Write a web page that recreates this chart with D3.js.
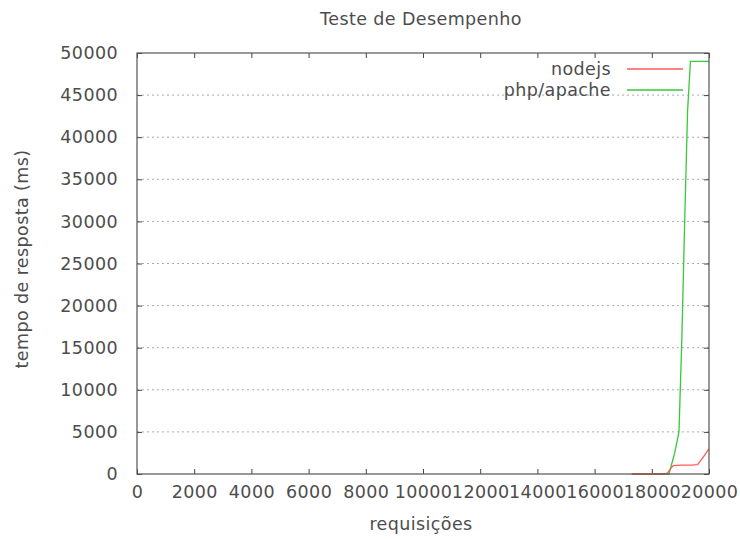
<!DOCTYPE html>
<html>
<head>
<meta charset="utf-8">
<script src="https://cdn.jsdelivr.net/npm/d3@7"></script>
<style>
  body { margin: 0; background: #fff; }
  text { font-family: "DejaVu Sans", sans-serif; fill: #4d4d4d; letter-spacing: 0.4px; }
</style>
</head>
<body>
<svg id="chart" width="740" height="539"></svg>
<script>
// requests vs response time (ms)
const nodeX = [17300, 18000, 18450, 18560, 18650, 18750, 19000, 19400, 19600, 19800, 20000];
const nodeY = [0, 0, 0, 150, 600, 1000, 1050, 1050, 1100, 2000, 3000];
const phpX = [17300, 18000, 18450, 18600, 18800, 18950, 19050, 19150, 19250, 19350, 19600, 20000];
const phpY = [0, 0, 0, 0, 2500, 5000, 16000, 30000, 43000, 49000, 49000, 49000];
const xTicks = [0, 2000, 4000, 6000, 8000, 10000, 12000, 14000, 16000, 18000, 20000];
const yTicks = [0, 5000, 10000, 15000, 20000, 25000, 30000, 35000, 40000, 45000, 50000];
const seriesNames = ['nodejs', 'php/apache'];
const seriesColors = ['#ff5a5a', '#38c838'];

const margin = {top: 53, right: 31, bottom: 65, left: 137};
const width = 740 - margin.left - margin.right;
const height = 539 - margin.top - margin.bottom;
const fontSize = '17.5px';

const svg = d3.select('#chart');
const g = svg.append('g')
  .attr('transform', `translate(${margin.left},${margin.top})`);

const scaleX = d3.scaleLinear().domain([0, 20000]).range([0, width]);
const scaleY = d3.scaleLinear().domain([0, 50000]).range([height, 0]);

// dotted grid
g.selectAll('line.grid')
  .data(yTicks.slice(1, -1))
  .enter().append('line')
  .attr('class', 'grid')
  .attr('x1', 0).attr('x2', width)
  .attr('y1', d => scaleY(d)).attr('y2', d => scaleY(d))
  .style('stroke', '#aaa')
  .style('stroke-dasharray', '2,3');

const xAxis = d3.axisBottom(scaleX).tickValues(xTicks).tickSize(-5).tickPadding(12).tickFormat(d3.format('d'));
const yAxis = d3.axisLeft(scaleY).tickValues(yTicks).tickSize(-5).tickPadding(19).tickFormat(d3.format('d'));
const xTop = d3.axisTop(scaleX).tickValues(xTicks).tickSize(-5).tickFormat('');
const yRight = d3.axisRight(scaleY).tickValues(yTicks).tickSize(-5).tickFormat('');

g.append('g').attr('class', 'x axis').attr('transform', `translate(0,${height})`).call(xAxis);
g.append('g').attr('class', 'y axis').call(yAxis);
g.append('g').attr('class', 'x2 axis').call(xTop);
g.append('g').attr('class', 'y2 axis').attr('transform', `translate(${width},0)`).call(yRight);

g.selectAll('.axis path.domain').remove();
g.selectAll('.axis .tick line').style('stroke', '#444');
g.selectAll('.axis text').style('font-size', fontSize).style('fill', '#4d4d4d')
  .style('font-family', '"DejaVu Sans", sans-serif');

// lines
const line = d3.line()
  .x(d => scaleX(d[0]))
  .y(d => scaleY(d[1]));

const series = [
  d3.zip(nodeX, nodeY),
  d3.zip(phpX, phpY)
];

// php first so nodejs lies on top at the base
[1, 0].forEach(i => {
  g.append('path')
    .datum(series[i])
    .attr('d', line)
    .style('fill', 'none')
    .style('stroke', seriesColors[i])
    .style('stroke-width', 1.3);
});

// frame
g.append('rect')
  .attr('x', 0).attr('y', 0)
  .attr('width', width).attr('height', height)
  .style('fill', 'none')
  .style('stroke', '#555')
  .style('stroke-width', 1.2);

// legend
seriesNames.forEach((name, i) => {
  const ly = 16 + i * 21;
  g.append('text')
    .attr('x', 474).attr('y', ly)
    .attr('dy', '0.35em')
    .attr('text-anchor', 'end')
    .style('font-size', fontSize)
    .text(name);
  g.append('line')
    .attr('x1', 490).attr('x2', 546)
    .attr('y1', ly).attr('y2', ly)
    .style('stroke', seriesColors[i])
    .style('stroke-width', 1.3);
});

// titles
svg.append('text')
  .attr('x', 421).attr('y', 25)
  .attr('text-anchor', 'middle')
  .style('font-size', fontSize)
  .text('Teste de Desempenho');

svg.append('text')
  .attr('x', 421).attr('y', 530)
  .attr('text-anchor', 'middle')
  .style('font-size', fontSize)
  .text('requisições');

svg.append('text')
  .attr('transform', `translate(28,259) rotate(-90)`)
  .attr('text-anchor', 'middle')
  .style('font-size', fontSize)
  .text('tempo de resposta (ms)');
</script>
</body>
</html>
